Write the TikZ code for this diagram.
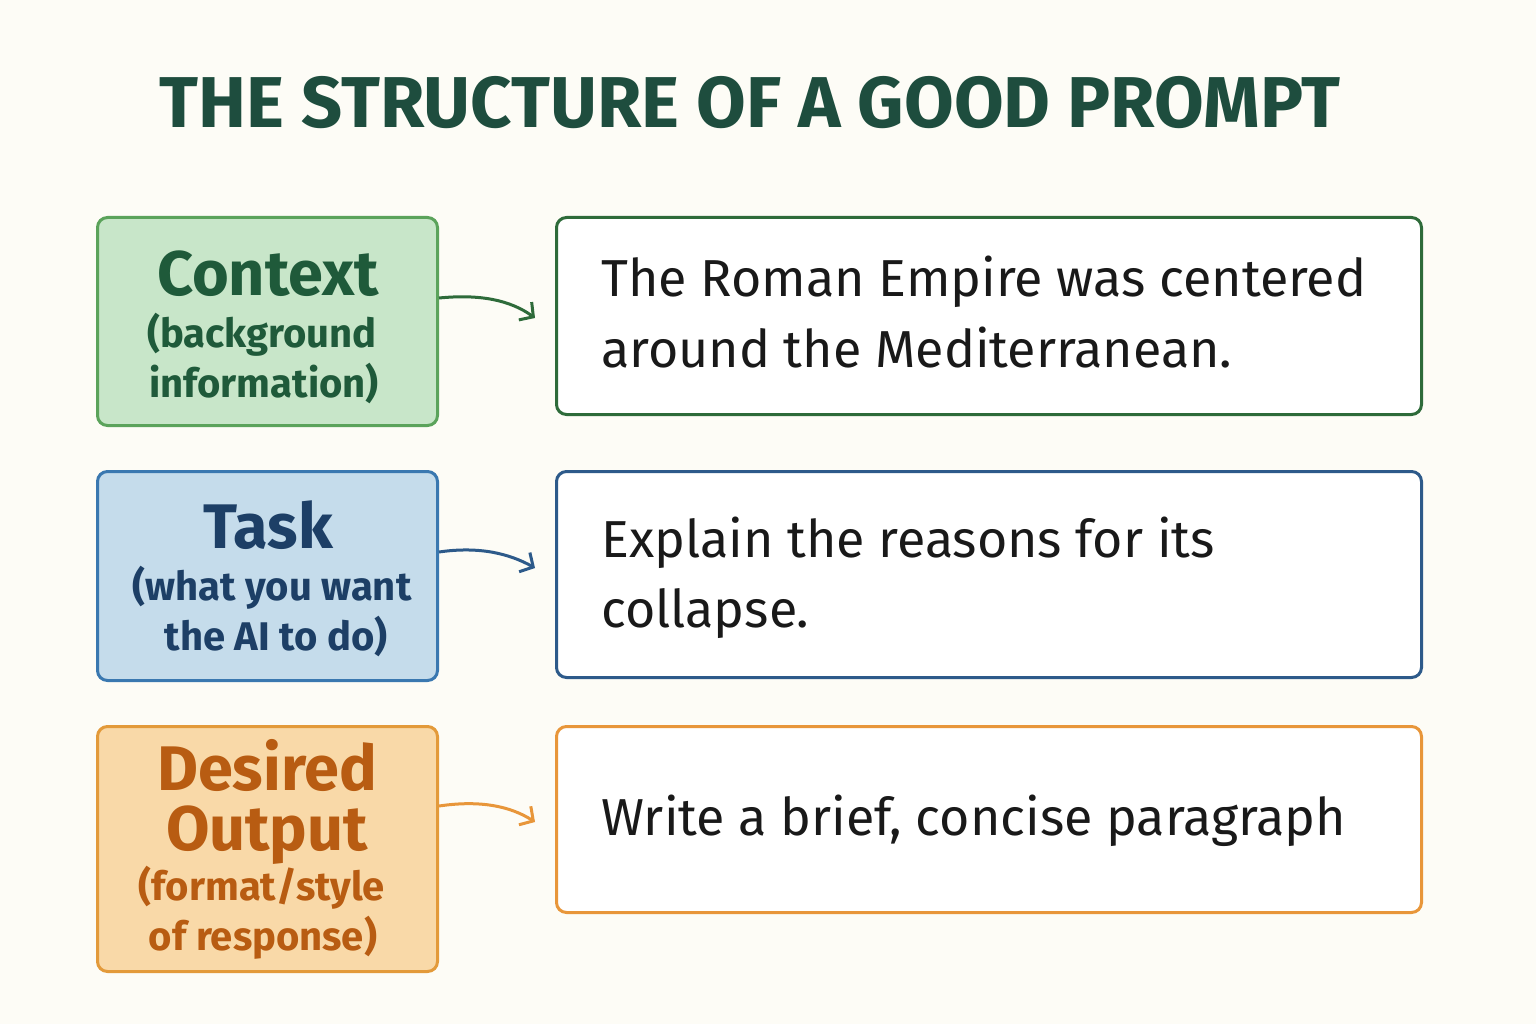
\documentclass[tikz,border=0pt]{standalone}
\usepackage{fontspec}
\setmainfont{Fira Sans}
\usetikzlibrary{arrows.meta}
\definecolor{bg}{HTML}{FDFCF6}
\definecolor{ttl}{HTML}{1E4D3E}
\definecolor{gfill}{HTML}{C8E6C9}\definecolor{gdraw}{HTML}{5BA35B}\definecolor{gtext}{HTML}{1F5A3A}\definecolor{gbox}{HTML}{2E6B3A}
\definecolor{bfill}{HTML}{C5DCEB}\definecolor{bdraw}{HTML}{3A78B0}\definecolor{btext}{HTML}{1D3F66}\definecolor{bbox}{HTML}{2D5A8A}
\definecolor{ofill}{HTML}{F9D9A8}\definecolor{odraw}{HTML}{E39A3A}\definecolor{otext}{HTML}{B85C12}\definecolor{obox}{HTML}{E8963A}
\tikzset{
 lbox/.style={draw, line width=3pt, rounded corners=10pt, minimum width=340pt, anchor=north west, inner sep=0pt},
 rbox/.style={draw, line width=3pt, rounded corners=10pt, fill=white, minimum width=865pt, anchor=north west},
 big/.style={anchor=base, inner sep=0pt, font=\fontsize{63}{63}\selectfont\bfseries},
 small/.style={anchor=base, inner sep=0pt, font=\fontsize{40}{40}\selectfont\bfseries},
 rtext/.style={anchor=base west, inner sep=0pt, font=\fontsize{52}{52}\selectfont, text=black!90},
 arr/.style={line width=3pt, -{Straight Barb[length=10pt,width=22pt]}}
}
\begin{document}
\begin{tikzpicture}[x=1pt,y=-1pt]
\fill[bg] (0,0) rectangle (1536,1024);
\useasboundingbox (0,0) rectangle (1536,1024);
\node[text=ttl, font=\fontsize{72}{72}\selectfont\bfseries] (title) at (750,103) {THE STRUCTURE OF A GOOD PROMPT};
% Context
\node[lbox, draw=gdraw, fill=gfill, minimum height=208pt] (c) at (96,216) {};
\node[big, text=gtext] (c1) at (268,295) {Context};
\node[small, text=gtext] (c2) at (262,347) {(background};
\node[small, text=gtext] (c3) at (264,397) {information)};
\node[rbox, draw=gbox, minimum height=197pt] (cr) at (555,216) {};
\node[rtext] (cr1) at (601,297) {The Roman Empire was centered};
\node[rtext] (cr2) at (601,367) {around the Mediterranean.};
\draw[arr, gbox] (c.east |- 0,298) .. controls (480,294) and (510,300) .. (535,318);
% Task
\node[lbox, draw=bdraw, fill=bfill, minimum height=209pt] (t) at (96,470) {};
\node[big, text=btext] (t1) at (268,548) {Task};
\node[small, text=btext] (t2) at (272,600) {(what you want};
\node[small, text=btext] (t3) at (276,650) {the AI to do)};
\node[rbox, draw=bbox, minimum height=206pt] (tr) at (555,470) {};
\node[rtext] (tr1) at (601,557) {Explain the reasons for its};
\node[rtext] (tr2) at (601,627) {collapse.};
\draw[arr, bbox] (t.east |- 0,552) .. controls (480,546) and (510,554) .. (535,568);
% Output
\node[lbox, draw=odraw, fill=ofill, minimum height=245pt] (o) at (96,725) {};
\node[big, text=otext] (o1) at (267,790) {Desired};
\node[big, text=otext] (o2) at (267,850) {Output};
\node[small, text=otext] (o3) at (262,900) {(format/style};
\node[small, text=otext] (o4) at (263,950) {of response)};
\node[rbox, draw=obox, minimum height=186pt] (or) at (555,725) {};
\node[rtext] (or1) at (601,835) {Write a brief, concise paragraph};
\draw[arr, obox] (o.east |- 0,806) .. controls (480,800) and (510,806) .. (535,822);
\end{tikzpicture}
\end{document}
